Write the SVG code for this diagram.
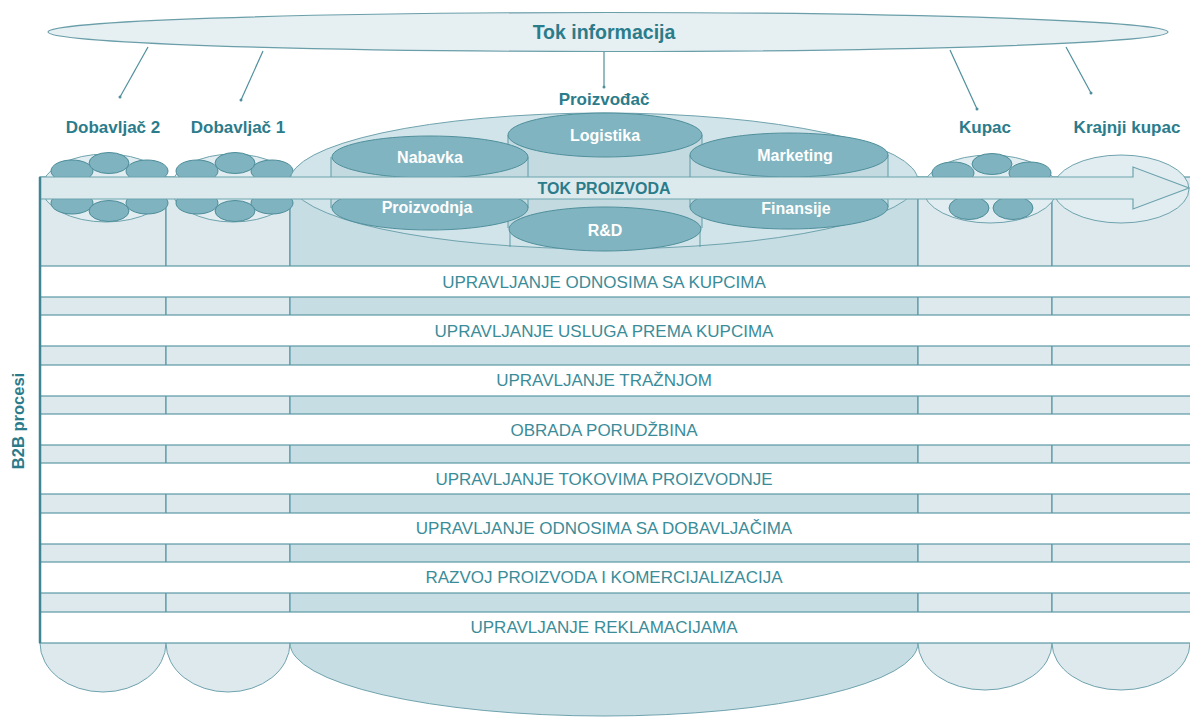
<svg xmlns="http://www.w3.org/2000/svg" width="1190" height="719" viewBox="0 0 1190 719">
<style>
.lbl{font-family:"Liberation Sans",Arial,sans-serif;font-weight:bold;fill:#2b7c8b;text-anchor:middle}
.row{font-family:"Liberation Sans",Arial,sans-serif;font-size:17px;fill:#3b8c99;text-anchor:middle}
.cyl{font-family:"Liberation Sans",Arial,sans-serif;font-weight:bold;font-size:16px;fill:#ffffff;text-anchor:middle}
.col{fill:#dde9ed;stroke:#5b98a4;stroke-width:1.2}
.col3{fill:#c6dde3;stroke:#5b98a4;stroke-width:1.2}
.lobe{fill:#dde9ed;stroke:#6fa3ae;stroke-width:1}
.lobe3{fill:#c6dde3;stroke:#6fa3ae;stroke-width:1}
.clus{fill:#e1edf0;stroke:#6fa3ae;stroke-width:1}
.sm{fill:#7fb3bf;stroke:#4d8d9a;stroke-width:1}
.ce{fill:#80b4c0;stroke:#4f8f9c;stroke-width:1}
.body{fill:#c3dae0;stroke:none}
.wall{stroke:#5f9aa5;stroke-width:1}
.band{fill:#ffffff;stroke:#5b98a4;stroke-width:1.2}
.conn{stroke:#4f8f9c;stroke-width:1.2;fill:none}
</style>

<g id="tok-informacija">
<ellipse cx="608" cy="32" rx="560" ry="19.5" fill="#e6eff2" stroke="#6a9ea9" stroke-width="1.2"/>
<text class="lbl" x="604" y="39" font-size="19.5">Tok informacija</text>
</g>

<g id="connectors">
<line class="conn" x1="148" y1="47" x2="120" y2="97"/>
<line class="conn" x1="263" y1="51" x2="241" y2="100"/>
<line class="conn" x1="604" y1="52" x2="604" y2="87"/>
<line class="conn" x1="950" y1="50" x2="977" y2="109"/>
<line class="conn" x1="1066" y1="47" x2="1091" y2="93"/>
<circle cx="120" cy="97" r="1.5" fill="#4f8f9c"/>
<circle cx="241" cy="100" r="1.5" fill="#4f8f9c"/>
<circle cx="604" cy="87" r="1.5" fill="#4f8f9c"/>
<circle cx="977" cy="109" r="1.5" fill="#4f8f9c"/>
<circle cx="1091" cy="93" r="1.5" fill="#4f8f9c"/>
</g>

<g id="columns">
<rect class="col" x="40" y="177" width="126" height="466"/>
<rect class="col" x="166" y="177" width="124" height="466"/>
<rect class="col3" x="290" y="177" width="628" height="466"/>
<rect class="col" x="918" y="177" width="134" height="466"/>
<rect class="col" x="1052" y="177" width="140" height="466"/>
<path class="lobe" d="M40,643 A63,49 0 0 0 166,643"/>
<path class="lobe" d="M166,643 A62,49 0 0 0 290,643"/>
<path class="lobe3" d="M290,643 A314,73 0 0 0 918,643"/>
<path class="lobe" d="M918,643 A67,47 0 0 0 1052,643"/>
<path class="lobe" d="M1052,643 A69,47 0 0 0 1190,643"/>
</g>

<g id="dobavljac-2">
<text class="lbl" x="113" y="133" font-size="17">Dobavljač 2</text>
<ellipse class="clus" cx="106" cy="188" rx="64" ry="34"/>
<ellipse class="sm" cx="72" cy="171" rx="21" ry="11"/>
<ellipse class="sm" cx="147" cy="171" rx="21" ry="11"/>
<ellipse class="sm" cx="109" cy="163" rx="20" ry="10.5"/>
<ellipse class="sm" cx="72" cy="203" rx="21" ry="11"/>
<ellipse class="sm" cx="147" cy="203" rx="21" ry="11"/>
<ellipse class="sm" cx="109" cy="211" rx="20" ry="10.5"/>
</g>

<g id="dobavljac-1">
<text class="lbl" x="238" y="133" font-size="17">Dobavljač 1</text>
<ellipse class="clus" cx="233" cy="188" rx="62" ry="34"/>
<ellipse class="sm" cx="197" cy="171" rx="21" ry="11"/>
<ellipse class="sm" cx="272" cy="171" rx="21" ry="11"/>
<ellipse class="sm" cx="235" cy="163" rx="20" ry="10.5"/>
<ellipse class="sm" cx="197" cy="203" rx="21" ry="11"/>
<ellipse class="sm" cx="272" cy="203" rx="21" ry="11"/>
<ellipse class="sm" cx="235" cy="211" rx="20" ry="10.5"/>
</g>

<g id="kupac">
<text class="lbl" x="985" y="133" font-size="17">Kupac</text>
<ellipse class="clus" cx="990" cy="189" rx="67" ry="34"/>
<ellipse class="sm" cx="953" cy="173" rx="21" ry="11"/>
<ellipse class="sm" cx="1030" cy="173" rx="21" ry="11"/>
<ellipse class="sm" cx="992" cy="164" rx="20" ry="10.5"/>
<ellipse class="sm" cx="969" cy="208" rx="20" ry="11.5"/>
<ellipse class="sm" cx="1013" cy="208" rx="20" ry="11.5"/>
</g>

<g id="krajnji-kupac">
<text class="lbl" x="1127" y="133" font-size="17">Krajnji kupac</text>
<ellipse class="clus" cx="1121" cy="189" rx="68" ry="34"/>
</g>

<g id="proizvodjac">
<text class="lbl" x="604" y="105" font-size="17">Proizvođač</text>
<ellipse cx="604" cy="181" rx="314" ry="68" fill="#d0e4e9" stroke="#6fa3ae" stroke-width="1"/>
<rect class="body" x="508" y="135" width="194" height="93"/>
<line class="wall" x1="508" y1="135" x2="508" y2="228"/>
<line class="wall" x1="702" y1="135" x2="702" y2="228"/>
<line class="wall" x1="510" y1="228" x2="510" y2="247"/>
<line class="wall" x1="700" y1="228" x2="700" y2="247"/>
<ellipse class="ce" cx="605" cy="135" rx="97" ry="22"/>
<text class="cyl" x="605" y="141">Logistika</text>
<rect class="body" x="331" y="157" width="197" height="51"/>
<line class="wall" x1="331" y1="157" x2="331" y2="208"/>
<line class="wall" x1="528" y1="157" x2="528" y2="208"/>
<ellipse class="ce" cx="430" cy="157" rx="98" ry="21"/>
<text class="cyl" x="430" y="163">Nabavka</text>
<rect class="body" x="690" y="155" width="198" height="52"/>
<line class="wall" x1="690" y1="155" x2="690" y2="207"/>
<line class="wall" x1="888" y1="155" x2="888" y2="207"/>
<ellipse class="ce" cx="789" cy="155" rx="99" ry="22"/>
<text class="cyl" x="795" y="161">Marketing</text>
<ellipse class="ce" cx="605" cy="229" rx="96" ry="22"/>
<text class="cyl" x="605" y="236">R&amp;D</text>
<ellipse class="ce" cx="430" cy="208" rx="98" ry="22"/>
<text class="cyl" x="427" y="213">Proizvodnja</text>
<ellipse class="ce" cx="789" cy="207" rx="99" ry="22"/>
<text class="cyl" x="796" y="214">Finansije</text>
</g>

<g id="tok-proizvoda">
<path d="M40,177 H1133 V167 L1189,188 L1133,209 V199 H40 Z" fill="#dceaee" stroke="#6da3ae" stroke-width="1.2"/>
<text class="lbl" x="604" y="194" font-size="16">TOK PROIZVODA</text>
</g>

<g id="procesi">
<rect class="band" x="40" y="266" width="1152" height="31"/>
<text class="row" x="604" y="288">UPRAVLJANJE ODNOSIMA SA KUPCIMA</text>
<rect class="band" x="40" y="315" width="1152" height="31"/>
<text class="row" x="604" y="337">UPRAVLJANJE USLUGA PREMA KUPCIMA</text>
<rect class="band" x="40" y="365" width="1152" height="31"/>
<text class="row" x="604" y="386">UPRAVLJANJE TRAŽNJOM</text>
<rect class="band" x="40" y="414" width="1152" height="31"/>
<text class="row" x="604" y="436">OBRADA PORUDŽBINA</text>
<rect class="band" x="40" y="463" width="1152" height="31"/>
<text class="row" x="604" y="485">UPRAVLJANJE TOKOVIMA PROIZVODNJE</text>
<rect class="band" x="40" y="513" width="1152" height="31"/>
<text class="row" x="604" y="534">UPRAVLJANJE ODNOSIMA SA DOBAVLJAČIMA</text>
<rect class="band" x="40" y="562" width="1152" height="31"/>
<text class="row" x="604" y="583">RAZVOJ PROIZVODA I KOMERCIJALIZACIJA</text>
<rect class="band" x="40" y="612" width="1152" height="31"/>
<text class="row" x="604" y="633">UPRAVLJANJE REKLAMACIJAMA</text>
<line x1="40" y1="177" x2="40" y2="643" stroke="#3f8593" stroke-width="2.5"/>
</g>

<g id="b2b-label">
<text class="lbl" x="0" y="0" font-size="16.5" transform="translate(24,421) rotate(-90)">B2B procesi</text>
</g>
</svg>
